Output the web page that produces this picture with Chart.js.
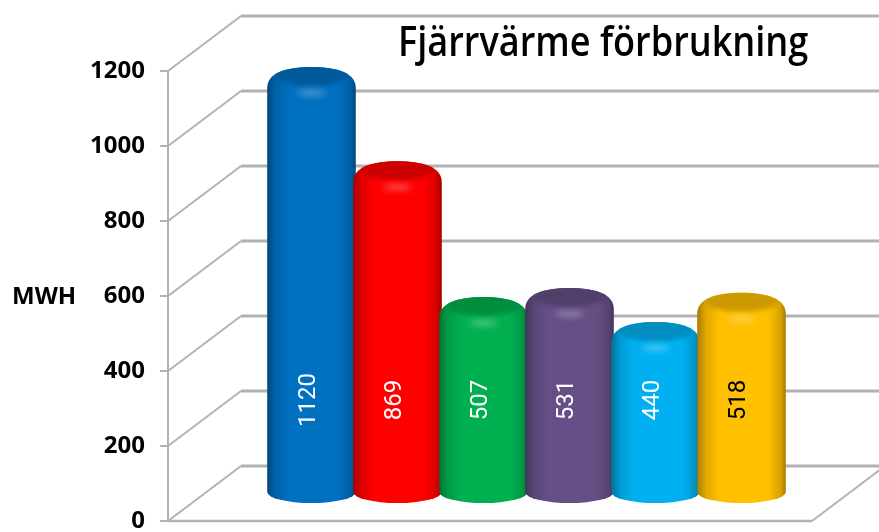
<!DOCTYPE html>
<html lang="sv">
<head>
<meta charset="utf-8">
<title>Fjärrvärme förbrukning</title>
<style>
    html, body { margin: 0; padding: 0; background: #fff; }
    canvas { display: block; }
</style>
<script src="https://cdn.jsdelivr.net/npm/chart.js@4"></script>
</head>
<body>
<canvas id="chart" width="879" height="532"></canvas>
<script>
    "use strict";

    const categories = ["1", "2", "3", "4", "5", "6"];
    const values = [1120, 869, 507, 531, 440, 518];
    const barColors = ["#0070c0", "#ff0000", "#00b050", "#654f86", "#00b0f0", "#ffc000"];
    const labelColors = ["#fff", "#fff", "#fff", "#fff", "#fff", "#000"];
    const titleText = "Fjärrvärme förbrukning";
    const unitText = "MWH";

    // frame of the fake 3D box, relative to the plot area
    const FRAME = { left: 168, right: 812, depthX: 73, depthY: -55, tick: 8, color: "#b2b2b2" };
    const TICK_FONT = "'Open Sans', sans-serif";

    function shade(hex, amount) {
        // amount < 0 goes to black, > 0 goes to white
        const n = parseInt(hex.slice(1), 16);
        const t = amount < 0 ? 0 : 255;
        const a = Math.abs(amount);
        const mix = c => Math.round(c + (t - c) * a);
        return `rgb(${mix(n >> 16)}, ${mix((n >> 8) & 255)}, ${mix(n & 255)})`;
    }

    /* ---------------- Cylinder bar ---------------- */
    class CylinderBar extends Chart.BarElement {
        draw(ctx) {
            const { x, y, base, width } = this.getProps(["x", "y", "base", "width"], true);
            const color = this.options.backgroundColor;
            const rx = width / 2;
            const top = y - 34;
            const bottom = base - 18;
            const ryTop = 21;
            const ryBottom = 11;

            ctx.save();
            ctx.beginPath();
            ctx.moveTo(x - rx, top + ryTop);
            ctx.bezierCurveTo(x - rx, top + ryTop * 0.3, x - rx * 0.6, top, x, top);
            ctx.bezierCurveTo(x + rx * 0.6, top, x + rx, top + ryTop * 0.3, x + rx, top + ryTop);
            ctx.lineTo(x + rx, bottom - ryBottom);
            ctx.ellipse(x, bottom - ryBottom, rx, ryBottom, 0, 0, Math.PI);
            ctx.closePath();

            const body = ctx.createLinearGradient(x - rx, 0, x + rx, 0);
            body.addColorStop(0, shade(color, -0.35));
            body.addColorStop(0.1, shade(color, -0.12));
            body.addColorStop(0.25, color);
            body.addColorStop(0.8, color);
            body.addColorStop(0.94, shade(color, -0.15));
            body.addColorStop(1, shade(color, -0.35));
            ctx.fillStyle = body;
            ctx.fill();
            ctx.clip();

            // darker top face, soft edge
            ctx.filter = "blur(2px)";
            ctx.fillStyle = shade(color, -0.2);
            ctx.beginPath();
            ctx.ellipse(x, top + 8, rx * 0.85, 11, 0, 0, Math.PI * 2);
            ctx.fill();

            // highlight on the rim
            ctx.filter = "blur(3px)";
            ctx.fillStyle = shade(color, 0.3);
            ctx.beginPath();
            ctx.ellipse(x, top + 26, rx * 0.32, 3, 0, 0, Math.PI * 2);
            ctx.fill();
            ctx.filter = "none";
            ctx.restore();
        }
    }
    CylinderBar.id = "cylinderBar";
    CylinderBar.defaults = Chart.BarElement.defaults;

    class CylinderController extends Chart.BarController {}
    CylinderController.id = "cylinder";
    CylinderController.defaults = { ...Chart.BarController.defaults, dataElementType: "cylinderBar" };
    CylinderController.overrides = Chart.BarController.overrides;

    Chart.register(CylinderBar, CylinderController);

    /* ---------------- Frame, title, labels ---------------- */
    const framePlugin = {
        id: "frame3d",
        beforeDatasetsDraw(chart) {
            const { ctx, scales: { y }, width } = chart;
            const f = FRAME;
            ctx.save();
            ctx.strokeStyle = f.color;
            ctx.lineCap = "butt";

            y.ticks.forEach(t => {
                const py = y.getPixelForValue(t.value);
                const bx = f.left + f.depthX;
                const by = py + f.depthY;
                ctx.lineWidth = 3;
                line(ctx, bx, by, width, by);
                ctx.lineWidth = 2;
                line(ctx, f.left, py, bx, by);
                line(ctx, f.left - f.tick, py, f.left, py);
            });

            const y0 = y.getPixelForValue(0);
            ctx.lineWidth = 2;
            line(ctx, f.left, y.getPixelForValue(y.max), f.left, y0);
            ctx.lineWidth = 2.5;
            line(ctx, f.left, y0, f.right, y0);
            ctx.lineWidth = 2;
            line(ctx, f.right, y0, f.right + f.depthX, y0 + f.depthY);
            ctx.restore();
        },
        afterDatasetsDraw(chart) {
            const { ctx } = chart;
            const bars = chart.getDatasetMeta(0).data;

            ctx.save();
            ctx.textAlign = "center";
            ctx.textBaseline = "middle";
            ctx.font = `24px Roboto, sans-serif`;
            bars.forEach((bar, i) => {
                ctx.save();
                ctx.translate(bar.x - 3, 400);
                ctx.rotate(-Math.PI / 2);
                ctx.fillStyle = labelColors[i];
                ctx.fillText(String(values[i]), 0, 0);
                ctx.restore();
            });

            ctx.fillStyle = "#000";
            ctx.font = `700 24px ${TICK_FONT}`;
            ctx.textAlign = "left";
            ctx.fillText(unitText, 12, 297);

            ctx.translate(398, 44);
            ctx.scale(0.86, 1);
            ctx.font = `600 42px ${TICK_FONT}`;
            ctx.fillText(titleText, 0, 0);
            ctx.restore();
        }
    };

    function line(ctx, x1, y1, x2, y2) {
        ctx.beginPath();
        ctx.moveTo(x1, y1);
        ctx.lineTo(x2, y2);
        ctx.stroke();
    }

    new Chart(document.getElementById("chart"), {
        type: "cylinder",
        data: {
            labels: categories,
            datasets: [{ data: values, backgroundColor: barColors, clip: false }]
        },
        options: {
            responsive: false,
            maintainAspectRatio: false,
            animation: false,
            events: [],
            categoryPercentage: 1,
            barPercentage: 1.03,
            layout: { padding: { top: 71, bottom: 11, right: 94.5, left: 0 } },
            plugins: { legend: { display: false }, tooltip: { enabled: false } },
            scales: {
                x: { display: false },
                y: {
                    min: 0,
                    max: 1200,
                    afterFit(scale) {
                        // tick padding is only there to push labels left of the wall
                        scale.width = 268.5;
                        scale.paddingTop = 0;
                        scale.paddingBottom = 0;
                    },
                    grid: { display: false, drawTicks: false },
                    border: { display: false },
                    ticks: {
                        stepSize: 200,
                        padding: 123.5,
                        color: "#000",
                        callback: v => String(v),
                        font: { family: TICK_FONT, size: 24, weight: "700" }
                    }
                }
            }
        },
        plugins: [framePlugin]
    });
</script>
</body>
</html>
